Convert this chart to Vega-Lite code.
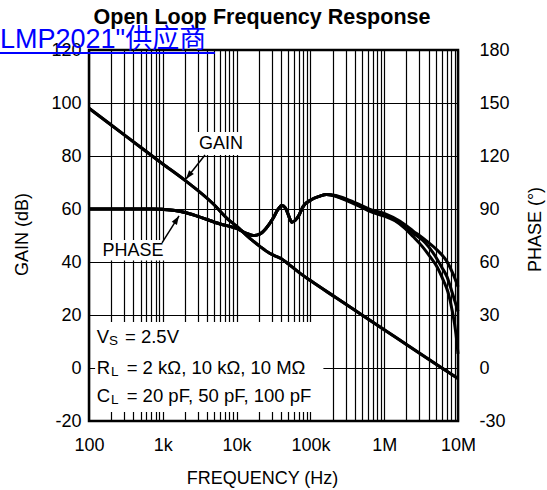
{
  "$schema": "https://vega.github.io/schema/vega-lite/v6.json",
  "width": 369,
  "height": 371,
  "autosize": "none",
  "padding": {"left": 89, "top": 50, "right": 89, "bottom": 69},
  "background": "white",
  "config": {
    "view": {"stroke": "black", "strokeWidth": 2.5},
    "font": "Liberation Sans",
    "axis": {
      "labelFont": "Liberation Sans",
      "labelFontSize": 18,
      "labelColor": "black",
      "titleFont": "Liberation Sans",
      "titleFontSize": 18,
      "titleFontWeight": "normal",
      "titleColor": "black",
      "domain": false,
      "ticks": false,
      "tickSize": 0
    }
  },
  "datasets": {
    "gain": [
      {"freq": 100, "gain": 98},
      {"freq": 200, "gain": 91.7},
      {"freq": 500, "gain": 83.3},
      {"freq": 1000, "gain": 77},
      {"freq": 2000, "gain": 70.8},
      {"freq": 5000, "gain": 61.5},
      {"freq": 7400, "gain": 56.5},
      {"freq": 10000, "gain": 53.5},
      {"freq": 15000, "gain": 49},
      {"freq": 20500, "gain": 46},
      {"freq": 28000, "gain": 43.3},
      {"freq": 35000, "gain": 42},
      {"freq": 40500, "gain": 41.2},
      {"freq": 50000, "gain": 39.3},
      {"freq": 72000, "gain": 35.8},
      {"freq": 100000, "gain": 33},
      {"freq": 226000, "gain": 26.4},
      {"freq": 500000, "gain": 20},
      {"freq": 1000000, "gain": 14.4},
      {"freq": 2000000, "gain": 8.9},
      {"freq": 5000000, "gain": 1.5},
      {"freq": 10000000, "gain": -4}
    ],
    "phase": [
      {"series": "A", "freq": 100, "phase": 90},
      {"series": "A", "freq": 300, "phase": 90},
      {"series": "A", "freq": 700, "phase": 90},
      {"series": "A", "freq": 1000, "phase": 89.8},
      {"series": "A", "freq": 1460, "phase": 89.2},
      {"series": "A", "freq": 2000, "phase": 88},
      {"series": "A", "freq": 3000, "phase": 85.8},
      {"series": "A", "freq": 6000, "phase": 81.5},
      {"series": "A", "freq": 10000, "phase": 79},
      {"series": "A", "freq": 14000, "phase": 76},
      {"series": "A", "freq": 17000, "phase": 75},
      {"series": "A", "freq": 20500, "phase": 75.8},
      {"series": "A", "freq": 25000, "phase": 79},
      {"series": "A", "freq": 31500, "phase": 85},
      {"series": "A", "freq": 36000, "phase": 89.5},
      {"series": "A", "freq": 41000, "phase": 92},
      {"series": "A", "freq": 46000, "phase": 90.5},
      {"series": "A", "freq": 51000, "phase": 86},
      {"series": "A", "freq": 56000, "phase": 82.5},
      {"series": "A", "freq": 62000, "phase": 83.5},
      {"series": "A", "freq": 70000, "phase": 86.5},
      {"series": "A", "freq": 80000, "phase": 91.5},
      {"series": "A", "freq": 100000, "phase": 95},
      {"series": "A", "freq": 135000, "phase": 97.3},
      {"series": "A", "freq": 165000, "phase": 98.2},
      {"series": "A", "freq": 220000, "phase": 97.6},
      {"series": "A", "freq": 310000, "phase": 95.6},
      {"series": "A", "freq": 450000, "phase": 92.8},
      {"series": "A", "freq": 642000, "phase": 89.8},
      {"series": "A", "freq": 1000000, "phase": 87.5},
      {"series": "A", "freq": 1640000, "phase": 83},
      {"series": "A", "freq": 2480000, "phase": 77.5},
      {"series": "A", "freq": 3770000, "phase": 71.8},
      {"series": "A", "freq": 5140000, "phase": 67},
      {"series": "A", "freq": 7030000, "phase": 60.5},
      {"series": "A", "freq": 8630000, "phase": 53},
      {"series": "A", "freq": 10000000, "phase": 46},
      {"series": "B", "freq": 100, "phase": 90},
      {"series": "B", "freq": 300, "phase": 90},
      {"series": "B", "freq": 700, "phase": 90},
      {"series": "B", "freq": 1000, "phase": 89.8},
      {"series": "B", "freq": 1460, "phase": 89.2},
      {"series": "B", "freq": 2000, "phase": 88},
      {"series": "B", "freq": 3000, "phase": 85.8},
      {"series": "B", "freq": 6000, "phase": 81.5},
      {"series": "B", "freq": 10000, "phase": 79},
      {"series": "B", "freq": 14000, "phase": 76},
      {"series": "B", "freq": 17000, "phase": 75},
      {"series": "B", "freq": 20500, "phase": 75.8},
      {"series": "B", "freq": 25000, "phase": 79},
      {"series": "B", "freq": 31500, "phase": 85},
      {"series": "B", "freq": 36000, "phase": 89.5},
      {"series": "B", "freq": 41000, "phase": 92},
      {"series": "B", "freq": 46000, "phase": 90.5},
      {"series": "B", "freq": 51000, "phase": 86},
      {"series": "B", "freq": 56000, "phase": 82.5},
      {"series": "B", "freq": 62000, "phase": 83.5},
      {"series": "B", "freq": 70000, "phase": 86.5},
      {"series": "B", "freq": 80000, "phase": 91.5},
      {"series": "B", "freq": 100000, "phase": 95},
      {"series": "B", "freq": 135000, "phase": 97.3},
      {"series": "B", "freq": 165000, "phase": 98.2},
      {"series": "B", "freq": 220000, "phase": 97.4},
      {"series": "B", "freq": 310000, "phase": 95.2},
      {"series": "B", "freq": 450000, "phase": 92.3},
      {"series": "B", "freq": 642000, "phase": 89.2},
      {"series": "B", "freq": 1000000, "phase": 86.7},
      {"series": "B", "freq": 1640000, "phase": 82},
      {"series": "B", "freq": 2480000, "phase": 76.3},
      {"series": "B", "freq": 3570000, "phase": 71},
      {"series": "B", "freq": 4580000, "phase": 65.3},
      {"series": "B", "freq": 6070000, "phase": 56.8},
      {"series": "B", "freq": 7100000, "phase": 51.6},
      {"series": "B", "freq": 8300000, "phase": 43},
      {"series": "B", "freq": 10000000, "phase": 32},
      {"series": "C", "freq": 100, "phase": 90},
      {"series": "C", "freq": 300, "phase": 90},
      {"series": "C", "freq": 700, "phase": 90},
      {"series": "C", "freq": 1000, "phase": 89.8},
      {"series": "C", "freq": 1460, "phase": 89.2},
      {"series": "C", "freq": 2000, "phase": 88},
      {"series": "C", "freq": 3000, "phase": 85.8},
      {"series": "C", "freq": 6000, "phase": 81.5},
      {"series": "C", "freq": 10000, "phase": 79},
      {"series": "C", "freq": 14000, "phase": 76},
      {"series": "C", "freq": 17000, "phase": 75},
      {"series": "C", "freq": 20500, "phase": 75.8},
      {"series": "C", "freq": 25000, "phase": 79},
      {"series": "C", "freq": 31500, "phase": 85},
      {"series": "C", "freq": 36000, "phase": 89.5},
      {"series": "C", "freq": 41000, "phase": 92},
      {"series": "C", "freq": 46000, "phase": 90.5},
      {"series": "C", "freq": 51000, "phase": 86},
      {"series": "C", "freq": 56000, "phase": 82.5},
      {"series": "C", "freq": 62000, "phase": 83.5},
      {"series": "C", "freq": 70000, "phase": 86.5},
      {"series": "C", "freq": 80000, "phase": 91.5},
      {"series": "C", "freq": 100000, "phase": 95},
      {"series": "C", "freq": 135000, "phase": 97.3},
      {"series": "C", "freq": 165000, "phase": 98.2},
      {"series": "C", "freq": 220000, "phase": 97.2},
      {"series": "C", "freq": 310000, "phase": 94.8},
      {"series": "C", "freq": 450000, "phase": 91.8},
      {"series": "C", "freq": 642000, "phase": 88.6},
      {"series": "C", "freq": 1000000, "phase": 86},
      {"series": "C", "freq": 1400000, "phase": 83.3},
      {"series": "C", "freq": 1910000, "phase": 79},
      {"series": "C", "freq": 2460000, "phase": 74.4},
      {"series": "C", "freq": 3250000, "phase": 69},
      {"series": "C", "freq": 4180000, "phase": 63},
      {"series": "C", "freq": 5190000, "phase": 57.3},
      {"series": "C", "freq": 6270000, "phase": 50},
      {"series": "C", "freq": 7310000, "phase": 43},
      {"series": "C", "freq": 8300000, "phase": 33},
      {"series": "C", "freq": 9400000, "phase": 19},
      {"series": "C", "freq": 10000000, "phase": 8}
    ],
    "boxes": [
      {"name": "conditions", "x1": 121, "x2": 150000, "y1": -16.6, "y2": 17.4},
      {"name": "gainlabel", "x1": 2818, "x2": 13400, "y1": 80.4, "y2": 89.1},
      {"name": "phaselabel", "x1": 137, "x2": 1177, "y1": 40.6, "y2": 48.3}
    ],
    "labels": [
      {"text": "GAIN", "freq": 6147, "gain": 84.7},
      {"text": "PHASE", "freq": 394, "gain": 44.0}
    ],
    "arrows": [
      {"name": "gain", "x1": 3733, "y1": 80.4, "x2": 2061, "y2": 71.3},
      {"name": "phase", "x1": 975, "y1": 47.2, "x2": 1658, "y2": 57.4}
    ],
    "conds": [
      {"text": "V", "freq": 127.2, "gain": 9.3},
      {"text": "= 2.5V", "freq": 307.4, "gain": 9.3},
      {"text": "R", "freq": 127.2, "gain": -2.2},
      {"text": "= 2 kΩ, 10 kΩ, 10 MΩ", "freq": 324, "gain": -2.2},
      {"text": "C", "freq": 127.2, "gain": -12.7},
      {"text": "= 20 pF, 50 pF, 100 pF", "freq": 324, "gain": -12.7}
    ],
    "subs": [
      {"text": "S", "freq": 186.6, "gain": 8.6},
      {"text": "L", "freq": 198.6, "gain": -3.0},
      {"text": "L", "freq": 198.6, "gain": -13.5}
    ],
    "heading": [
      {"text": "Open Loop Frequency Response", "freq": 22080, "gain": 129.8}
    ],
    "watermark": [
      {"text": "LMP2021\"供应商", "freq": 6.22, "gain": 120.75, "freqEnd": 5093, "line": 118.87}
    ]
  },
  "layer": [
    {
      "data": {"name": "gain"},
      "mark": {"type": "line", "color": "black", "strokeWidth": 3, "interpolate": "monotone"},
      "encoding": {
        "x": {
          "field": "freq", "type": "quantitative",
          "scale": {"type": "log", "domain": [100, 10000000], "nice": false},
          "axis": {
            "orient": "bottom",
            "values": [100,200,300,400,500,600,700,800,900,1000,2000,3000,4000,5000,6000,7000,8000,9000,10000,20000,30000,40000,50000,60000,70000,80000,90000,100000,200000,300000,400000,500000,600000,700000,800000,900000,1000000,2000000,3000000,4000000,5000000,6000000,7000000,8000000,9000000,10000000],
            "labelExpr": "datum.value == 100 ? '100' : datum.value == 1000 ? '1k' : datum.value == 10000 ? '10k' : datum.value == 100000 ? '100k' : datum.value == 1000000 ? '1M' : datum.value == 10000000 ? '10M' : ''",
            "labelOverlap": false,
            "labelFlush": false,
            "labelPadding": 15,
            "labelDx": -3,
            "grid": true,
            "gridColor": "black",
            "gridWidth": 1.2,
            "gridOpacity": 1,
            "title": "FREQUENCY (Hz)",
            "titleX": 173,
            "titleY": 62,
            "titleBaseline": "alphabetic",
            "titleAlign": "center"
          }
        },
        "y": {
          "field": "gain", "type": "quantitative",
          "scale": {"domain": [-20, 120], "nice": false, "zero": false},
          "axis": {
            "orient": "left",
            "values": [-20, 0, 20, 40, 60, 80, 100, 120],
            "labelExpr": "'' + datum.value",
            "labelPadding": 8,
            "grid": true,
            "gridColor": "black",
            "gridWidth": 1.2,
            "gridOpacity": 1,
            "title": "GAIN (dB)",
            "titleAngle": 270,
            "titleX": -62,
            "titleY": 184,
            "titleBaseline": "alphabetic",
            "titleAlign": "center"
          }
        }
      }
    },
    {
      "data": {"name": "boxes"},
      "mark": {"type": "rect", "fill": "white", "strokeWidth": 0},
      "encoding": {
        "x": {"field": "x1", "type": "quantitative", "scale": {"type": "log", "domain": [100, 10000000], "nice": false}, "axis": null},
        "x2": {"field": "x2"},
        "y": {"field": "y1", "type": "quantitative", "scale": {"domain": [-20, 120], "nice": false, "zero": false}, "axis": null},
        "y2": {"field": "y2"}
      }
    },
    {
      "data": {"name": "gain"},
      "mark": {"type": "line", "color": "black", "strokeWidth": 3, "interpolate": "monotone"},
      "encoding": {
        "x": {"field": "freq", "type": "quantitative", "scale": {"type": "log", "domain": [100, 10000000], "nice": false}, "axis": null},
        "y": {"field": "gain", "type": "quantitative", "scale": {"domain": [-20, 120], "nice": false, "zero": false}, "axis": null}
      }
    },
    {
      "data": {"name": "arrows"},
      "mark": {"type": "rule", "color": "black", "strokeWidth": 1.5},
      "encoding": {
        "x": {"field": "x1", "type": "quantitative", "scale": {"type": "log", "domain": [100, 10000000], "nice": false}, "axis": null},
        "x2": {"field": "x2"},
        "y": {"field": "y1", "type": "quantitative", "scale": {"domain": [-20, 120], "nice": false, "zero": false}, "axis": null},
        "y2": {"field": "y2"}
      }
    },
    {
      "data": {"name": "arrows"},
      "transform": [{"filter": "datum.name == 'gain'"}],
      "mark": {"type": "point", "shape": "M0,0L0.38,1.1L-0.38,1.1Z", "filled": true, "color": "black", "opacity": 1, "size": 256, "angle": 218.4},
      "encoding": {
        "x": {"field": "x2", "type": "quantitative", "scale": {"type": "log", "domain": [100, 10000000], "nice": false}, "axis": null},
        "y": {"field": "y2", "type": "quantitative", "scale": {"domain": [-20, 120], "nice": false, "zero": false}, "axis": null}
      }
    },
    {
      "data": {"name": "arrows"},
      "transform": [{"filter": "datum.name == 'phase'"}],
      "mark": {"type": "point", "shape": "M0,0L0.38,1.1L-0.38,1.1Z", "filled": true, "color": "black", "opacity": 1, "size": 256, "angle": 32.2},
      "encoding": {
        "x": {"field": "x2", "type": "quantitative", "scale": {"type": "log", "domain": [100, 10000000], "nice": false}, "axis": null},
        "y": {"field": "y2", "type": "quantitative", "scale": {"domain": [-20, 120], "nice": false, "zero": false}, "axis": null}
      }
    },
    {
      "data": {"name": "labels"},
      "mark": {"type": "text", "font": "Liberation Sans", "fontSize": 18, "color": "black", "align": "center", "baseline": "middle"},
      "encoding": {
        "x": {"field": "freq", "type": "quantitative", "scale": {"type": "log", "domain": [100, 10000000], "nice": false}, "axis": null},
        "y": {"field": "gain", "type": "quantitative", "scale": {"domain": [-20, 120], "nice": false, "zero": false}, "axis": null},
        "text": {"field": "text"}
      }
    },
    {
      "data": {"name": "conds"},
      "mark": {"type": "text", "font": "Liberation Sans", "fontSize": 18.5, "color": "black", "align": "left", "baseline": "alphabetic"},
      "encoding": {
        "x": {"field": "freq", "type": "quantitative", "scale": {"type": "log", "domain": [100, 10000000], "nice": false}, "axis": null},
        "y": {"field": "gain", "type": "quantitative", "scale": {"domain": [-20, 120], "nice": false, "zero": false}, "axis": null},
        "text": {"field": "text"}
      }
    },
    {
      "data": {"name": "subs"},
      "mark": {"type": "text", "font": "Liberation Sans", "fontSize": 13.5, "color": "black", "align": "left", "baseline": "alphabetic"},
      "encoding": {
        "x": {"field": "freq", "type": "quantitative", "scale": {"type": "log", "domain": [100, 10000000], "nice": false}, "axis": null},
        "y": {"field": "gain", "type": "quantitative", "scale": {"domain": [-20, 120], "nice": false, "zero": false}, "axis": null},
        "text": {"field": "text"}
      }
    },
    {
      "data": {"name": "phase"},
      "mark": {"type": "line", "color": "black", "strokeWidth": 3, "interpolate": "monotone"},
      "encoding": {
        "x": {"field": "freq", "type": "quantitative", "scale": {"type": "log", "domain": [100, 10000000], "nice": false}, "axis": null},
        "y": {
          "field": "phase", "type": "quantitative",
          "scale": {"domain": [-30, 180], "nice": false, "zero": false},
          "axis": {
            "orient": "right",
            "values": [-30, 0, 30, 60, 90, 120, 150, 180],
            "labelExpr": "'' + datum.value",
            "labelPadding": 21,
            "labelAlign": "left",
            "grid": false,
            "title": "PHASE (°)",
            "titleAngle": 270,
            "titleX": 82,
            "titleY": 179,
            "titleBaseline": "alphabetic",
            "titleAlign": "center"
          }
        },
        "detail": {"field": "series"}
      }
    },
    {
      "data": {"name": "heading"},
      "mark": {"type": "text", "font": "Liberation Sans", "fontSize": 21.5, "fontWeight": "bold", "color": "black", "align": "center", "baseline": "alphabetic"},
      "encoding": {
        "x": {"field": "freq", "type": "quantitative", "scale": {"type": "log", "domain": [100, 10000000], "nice": false}, "axis": null},
        "y": {"field": "gain", "type": "quantitative", "scale": {"domain": [-20, 120], "nice": false, "zero": false}, "axis": null},
        "text": {"field": "text"}
      }
    },
    {
      "data": {"name": "watermark"},
      "mark": {"type": "text", "font": "Liberation Sans, Noto Sans CJK SC", "fontSize": 27, "color": "#0000ff", "align": "left", "baseline": "alphabetic"},
      "encoding": {
        "x": {"field": "freq", "type": "quantitative", "scale": {"type": "log", "domain": [100, 10000000], "nice": false}, "axis": null},
        "y": {"field": "gain", "type": "quantitative", "scale": {"domain": [-20, 120], "nice": false, "zero": false}, "axis": null},
        "text": {"field": "text"}
      }
    },
    {
      "data": {"name": "watermark"},
      "mark": {"type": "rule", "color": "#0000ff", "strokeWidth": 1.8},
      "encoding": {
        "x": {"field": "freq", "type": "quantitative", "scale": {"type": "log", "domain": [100, 10000000], "nice": false}, "axis": null},
        "x2": {"field": "freqEnd"},
        "y": {"field": "line", "type": "quantitative", "scale": {"domain": [-20, 120], "nice": false, "zero": false}, "axis": null}
      }
    }
  ],
  "resolve": {"scale": {"y": "independent"}, "axis": {"x": "independent", "y": "independent"}}
}
